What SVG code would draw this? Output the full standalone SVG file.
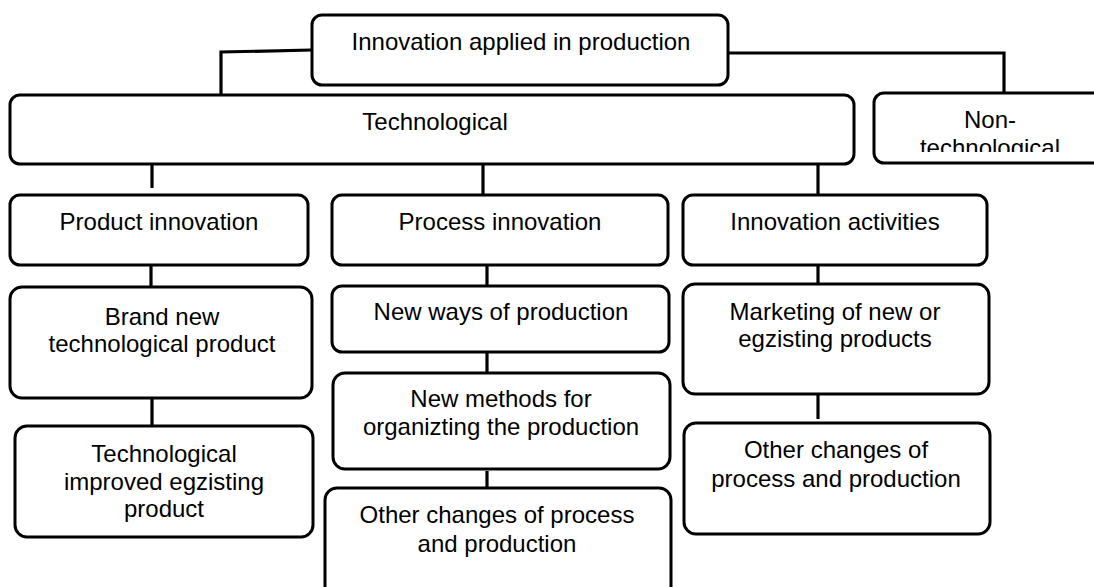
<svg xmlns="http://www.w3.org/2000/svg" width="1094" height="587" viewBox="0 0 1094 587">
  <style>
    .box { fill: #ffffff; stroke: #000000; stroke-width: 3; }
    .link { fill: none; stroke: #000000; stroke-width: 3.2; }
    text { font-family: "Liberation Sans", Arial, sans-serif; font-size: 24px; fill: #000000; text-anchor: middle; }
  </style>
  <defs>
    <!-- the non-technological label is cut off by its text frame -->
    <clipPath id="nonTechClip">
      <rect x="876" y="95" width="230" height="57"/>
    </clipPath>
  </defs>
  <rect width="1094" height="587" fill="#ffffff"/>

  <g id="connectors">
    <path class="link" d="M312,50 L221,52 L221,95"/>
    <path class="link" d="M728,53 L1004,53 L1004,93"/>
    <path class="link" d="M152,164 L152,188"/>
    <path class="link" d="M483,164 L483,195"/>
    <path class="link" d="M818,164 L818,195"/>
    <path class="link" d="M151,265 L151,287"/>
    <path class="link" d="M152,398 L152,426"/>
    <path class="link" d="M487,265 L487,286"/>
    <path class="link" d="M487,352 L487,373"/>
    <path class="link" d="M487,471 L487,488"/>
    <path class="link" d="M818,265 L818,285"/>
    <path class="link" d="M818,395 L818,419"/>
  </g>

  <g id="root">
    <rect class="box" x="312" y="15" width="416" height="70" rx="10"/>
    <text x="521" y="50">Innovation applied in production</text>
  </g>

  <g id="technological">
    <rect class="box" x="10" y="95" width="844" height="69" rx="10"/>
    <text x="435" y="130">Technological</text>
  </g>

  <g id="non-technological">
    <rect class="box" x="874" y="93" width="234" height="70" rx="10"/>
    <g clip-path="url(#nonTechClip)">
      <text x="990" y="128">Non-</text>
      <text x="990" y="156">technological</text>
    </g>
  </g>

  <g id="product-innovation">
    <rect class="box" x="10" y="195" width="298" height="70" rx="10"/>
    <text x="159" y="230">Product innovation</text>
  </g>

  <g id="process-innovation">
    <rect class="box" x="332" y="195" width="336" height="70" rx="10"/>
    <text x="500" y="230">Process innovation</text>
  </g>

  <g id="innovation-activities">
    <rect class="box" x="683" y="195" width="304" height="70" rx="10"/>
    <text x="835" y="230">Innovation activities</text>
  </g>

  <g id="brand-new-product">
    <rect class="box" x="10" y="287" width="302" height="111" rx="12"/>
    <text x="162" y="325">Brand new</text>
    <text x="162" y="352">technological product</text>
  </g>

  <g id="improved-product">
    <rect class="box" x="15" y="426" width="298" height="111" rx="12"/>
    <text x="164" y="462">Technological</text>
    <text x="164" y="490">improved egzisting</text>
    <text x="164" y="517">product</text>
  </g>

  <g id="new-ways">
    <rect class="box" x="332" y="286" width="337" height="66" rx="10"/>
    <text x="501" y="320">New ways of production</text>
  </g>

  <g id="new-methods">
    <rect class="box" x="333" y="373" width="337" height="96" rx="12"/>
    <text x="501" y="407">New methods for</text>
    <text x="501" y="435">organizting the production</text>
  </g>

  <g id="process-other-changes">
    <rect class="box" x="325" y="488" width="346" height="120" rx="12"/>
    <text x="497" y="523">Other changes of process</text>
    <text x="497" y="552">and production</text>
  </g>

  <g id="marketing">
    <rect class="box" x="683" y="284" width="306" height="110" rx="12"/>
    <text x="835" y="320">Marketing of new or</text>
    <text x="835" y="347">egzisting products</text>
  </g>

  <g id="activities-other-changes">
    <rect class="box" x="684" y="423" width="306" height="111" rx="12"/>
    <text x="836" y="458">Other changes of</text>
    <text x="836" y="487">process and production</text>
  </g>
</svg>
